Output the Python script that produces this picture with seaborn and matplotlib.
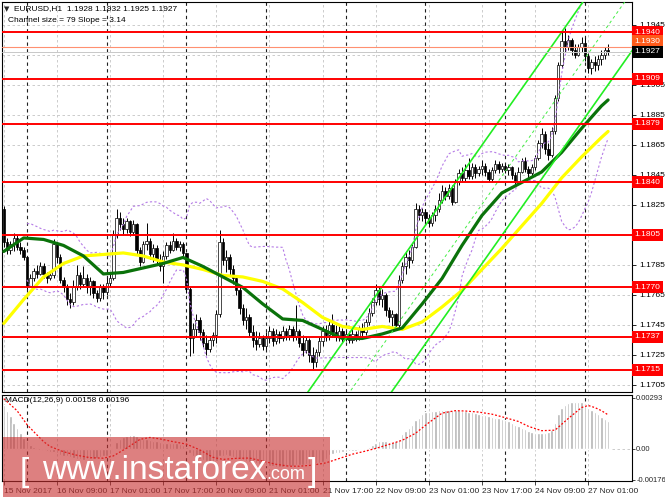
import numpy as np
import pandas as pd
import matplotlib
matplotlib.use("Agg")
import matplotlib.pyplot as plt
import matplotlib.transforms as mtransforms
from matplotlib.patches import Rectangle
import seaborn as sns

sns.set_theme(style="white")
plt.rcParams['font.family'] = ['Liberation Sans', 'DejaVu Sans']
plt.rcParams['axes.linewidth'] = 0.8

# ---------------- data (EURUSD H1) ----------------
first_open = 1.1822
close = [
    1.1800, 1.1795, 1.1799, 1.1803, 1.1797, 1.1795, 1.1790, 1.1771, 1.1776, 1.1781,
    1.1779, 1.1784, 1.1779, 1.1776, 1.1778, 1.1799, 1.1790, 1.1775, 1.1770, 1.1762,
    1.1760, 1.1770, 1.1778, 1.1772, 1.1776, 1.1770, 1.1774, 1.1766, 1.1763, 1.1770,
    1.1767, 1.1773, 1.1776, 1.1805, 1.1816, 1.1812, 1.1809, 1.1814, 1.1807, 1.1812,
    1.1795, 1.1787, 1.1799, 1.1801, 1.1792, 1.1796, 1.1788, 1.1784, 1.1791, 1.1798,
    1.1795, 1.1801, 1.1797, 1.1799, 1.1793, 1.1769, 1.1736, 1.1742, 1.1748, 1.1740,
    1.1733, 1.1729, 1.1735, 1.1738, 1.1752, 1.1800, 1.1788, 1.1790, 1.1782, 1.1776,
    1.1768, 1.1756, 1.1748, 1.1750, 1.1740, 1.1735, 1.1732, 1.1736, 1.1731, 1.1736,
    1.1741, 1.1734, 1.1739, 1.1736, 1.1741, 1.1738, 1.1742, 1.1737, 1.1741, 1.1733,
    1.1728, 1.1735, 1.1725, 1.1720, 1.1727, 1.1734, 1.1741, 1.1738, 1.1745, 1.1740,
    1.1737, 1.1741, 1.1736, 1.1739, 1.1735, 1.1739, 1.1737, 1.1742, 1.1740, 1.1747,
    1.1753, 1.1760, 1.1768, 1.1762, 1.1765, 1.1755, 1.1750, 1.1752, 1.1745, 1.1775,
    1.1784, 1.1790, 1.1788, 1.1797, 1.1822, 1.1818, 1.1820, 1.1816, 1.1813, 1.1818,
    1.1822, 1.1828, 1.1834, 1.1831, 1.1836, 1.1827, 1.1840, 1.1846, 1.1843, 1.1848,
    1.1844, 1.1850, 1.1846, 1.1849, 1.1851, 1.1847, 1.1842, 1.1848, 1.1852, 1.1849,
    1.1851, 1.1848, 1.1850, 1.1845, 1.1840, 1.1847, 1.1854, 1.1849, 1.1846, 1.1850,
    1.1856, 1.1866, 1.1872, 1.1862, 1.1858, 1.1874, 1.1896, 1.1918, 1.1934, 1.1930,
    1.1935, 1.1928, 1.1925, 1.1930, 1.1933, 1.1924, 1.1916, 1.1920, 1.1918, 1.1922,
    1.1925, 1.1928, 1.1927]
high = [
    1.1824, 1.1803, 1.1801, 1.1806, 1.1805, 1.1800, 1.1797, 1.1791, 1.1779, 1.1783,
    1.1785, 1.1787, 1.1786, 1.1780, 1.1780, 1.1802, 1.1800, 1.1792, 1.1777, 1.1772,
    1.1766, 1.1775, 1.1785, 1.1780, 1.1784, 1.1779, 1.1777, 1.1775, 1.1768, 1.1772,
    1.1772, 1.1776, 1.1779, 1.1808, 1.1822, 1.1820, 1.1816, 1.1816, 1.1815, 1.1815,
    1.1813, 1.1797, 1.1801, 1.1813, 1.1803, 1.1799, 1.1798, 1.1792, 1.1794, 1.1800,
    1.1801, 1.1806, 1.1803, 1.1801, 1.1800, 1.1793, 1.1770, 1.1746, 1.1752, 1.1750,
    1.1742, 1.1738, 1.1737, 1.1740, 1.1755, 1.1808, 1.1803, 1.1795, 1.1792, 1.1785,
    1.1778, 1.1770, 1.1759, 1.1756, 1.1752, 1.1745, 1.1741, 1.1740, 1.1738, 1.1740,
    1.1744, 1.1743, 1.1742, 1.1741, 1.1744, 1.1743, 1.1745, 1.1744, 1.1758, 1.1742,
    1.1738, 1.1737, 1.1736, 1.1730, 1.1729, 1.1737, 1.1744, 1.1745, 1.1748, 1.1752,
    1.1745, 1.1744, 1.1743, 1.1741, 1.1741, 1.1742, 1.1741, 1.1744, 1.1746, 1.1749,
    1.1756, 1.1763, 1.1772, 1.1770, 1.1769, 1.1766, 1.1757, 1.1755, 1.1753, 1.1778,
    1.1787, 1.1794, 1.1795, 1.1799, 1.1826, 1.1825, 1.1823, 1.1822, 1.1819, 1.1820,
    1.1825, 1.1833, 1.1838, 1.1837, 1.1839, 1.1838, 1.1842, 1.1849, 1.1850, 1.1852,
    1.1856, 1.1853, 1.1852, 1.1851, 1.1855, 1.1853, 1.1849, 1.1850, 1.1855, 1.1854,
    1.1853, 1.1852, 1.1852, 1.1851, 1.1847, 1.1850, 1.1856, 1.1857, 1.1851, 1.1852,
    1.1858, 1.1868, 1.1876, 1.1874, 1.1866, 1.1877, 1.1898, 1.1920, 1.1941, 1.1943,
    1.1938, 1.1936, 1.1932, 1.1932, 1.1937, 1.1936, 1.1926, 1.1922, 1.1924, 1.1925,
    1.1928, 1.1930, 1.1932]
low = [
    1.1797, 1.1792, 1.1792, 1.1794, 1.1795, 1.1792, 1.1788, 1.1769, 1.1770, 1.1774,
    1.1776, 1.1778, 1.1776, 1.1773, 1.1775, 1.1776, 1.1786, 1.1773, 1.1767, 1.1758,
    1.1756, 1.1758, 1.1768, 1.1769, 1.1770, 1.1766, 1.1765, 1.1763, 1.1760, 1.1761,
    1.1762, 1.1765, 1.1770, 1.1775, 1.1803, 1.1808, 1.1805, 1.1806, 1.1804, 1.1805,
    1.1792, 1.1784, 1.1786, 1.1795, 1.1789, 1.1787, 1.1785, 1.1781, 1.1773, 1.1789,
    1.1793, 1.1794, 1.1795, 1.1794, 1.1791, 1.1766, 1.1724, 1.1726, 1.1737, 1.1735,
    1.1730, 1.1725, 1.1727, 1.1731, 1.1733, 1.1750, 1.1785, 1.1780, 1.1778, 1.1772,
    1.1765, 1.1752, 1.1745, 1.1742, 1.1737, 1.1730, 1.1728, 1.1730, 1.1728, 1.1729,
    1.1733, 1.1731, 1.1732, 1.1733, 1.1734, 1.1735, 1.1735, 1.1734, 1.1735, 1.1730,
    1.1724, 1.1726, 1.1720, 1.1715, 1.1717, 1.1724, 1.1731, 1.1734, 1.1735, 1.1737,
    1.1734, 1.1734, 1.1733, 1.1734, 1.1733, 1.1733, 1.1734, 1.1735, 1.1737, 1.1738,
    1.1745, 1.1751, 1.1758, 1.1758, 1.1757, 1.1751, 1.1747, 1.1744, 1.1742, 1.1743,
    1.1773, 1.1779, 1.1783, 1.1786, 1.1796, 1.1815, 1.1814, 1.1813, 1.1810, 1.1811,
    1.1814, 1.1820, 1.1826, 1.1828, 1.1829, 1.1825, 1.1826, 1.1838, 1.1840, 1.1841,
    1.1842, 1.1842, 1.1843, 1.1844, 1.1845, 1.1844, 1.1840, 1.1840, 1.1846, 1.1846,
    1.1847, 1.1846, 1.1845, 1.1842, 1.1838, 1.1839, 1.1846, 1.1847, 1.1843, 1.1844,
    1.1848, 1.1855, 1.1863, 1.1859, 1.1855, 1.1857, 1.1872, 1.1894, 1.1916, 1.1927,
    1.1928, 1.1925, 1.1923, 1.1924, 1.1927, 1.1921, 1.1913, 1.1912, 1.1914, 1.1915,
    1.1918, 1.1922, 1.1925]

time_labels = ["15 Nov 2017", "16 Nov 09:00", "17 Nov 01:00", "17 Nov 17:00",
               "20 Nov 09:00", "21 Nov 01:00", "21 Nov 17:00", "22 Nov 09:00",
               "23 Nov 01:00", "23 Nov 17:00", "24 Nov 09:00", "27 Nov 01:00"]
label_bars = [0, 16, 32, 48, 64, 80, 96, 112, 128, 144, 160, 176]
day_start_bars = [7, 31, 55, 79, 103, 127, 151, 175]

ma_bars = [0, 6, 12, 18, 24, 30, 36, 42, 48, 54, 60, 66, 72, 78, 84, 90,
           96, 102, 108, 114, 120, 126, 132, 138, 144, 150, 156, 162, 168, 174, 180, 182]
ma_green = [1.1794, 1.1803, 1.1802, 1.1798, 1.1791, 1.1779, 1.1780, 1.1783, 1.1786, 1.1790,
            1.1784, 1.1777, 1.1770, 1.1759, 1.1749, 1.1748, 1.1742, 1.1736, 1.1736, 1.1739,
            1.1743, 1.1759, 1.1776, 1.1798, 1.1818, 1.1833, 1.1840, 1.1847, 1.1860, 1.1876,
            1.1891, 1.1895]
ma_yellow = [1.1746, 1.1762, 1.1777, 1.1786, 1.1791, 1.1792, 1.1793, 1.1791, 1.1787, 1.1785,
             1.1782, 1.1778, 1.1777, 1.1774, 1.1769, 1.1760, 1.1750, 1.1744, 1.1742, 1.1744,
             1.1742, 1.1747, 1.1757, 1.1768, 1.1782, 1.1796, 1.1811, 1.1826, 1.1843, 1.1857,
             1.1870, 1.1874]

# MACD(12,26,9) main line, in units of 0.00001
macd_main_e5 = [
    250, 220, 190, 150, 120, 92, 65, 45, 25, 14,
    6, 0, -8, -12, -16, -18, -25, -32, -38, -42,
    -48, -52, -55, -58, -61, -60, -58, -55, -52, -47,
    -42, -38, -30, 5, 40, 55, 68, 77, 80, 83,
    72, 63, 60, 56, 52, 48, 43, 38, 35, 34,
    33, 33, 32, 28, 22, 10, -25, -38, -45, -55,
    -63, -70, -75, -78, -70, -40, -38, -37, -40, -45,
    -50, -57, -64, -68, -72, -76, -80, -85, -89, -93,
    -97, -100, -102, -104, -103, -101, -99, -96, -94, -92,
    -90, -88, -87, -86, -83, -78, -72, -60, -35, -28,
    -24, -21, -18, -16, -14, -12, -10, -8, -6, 0,
    10, 22, 35, 45, 47, 45, 42, 42, 45, 60,
    85, 105, 120, 140, 165, 180, 200, 210, 215, 218,
    220, 222, 224, 225, 226, 224, 222, 221, 219, 216,
    214, 212, 208, 203, 197, 193, 189, 185, 180, 176,
    172, 167, 161, 152, 140, 130, 120, 112, 104, 96,
    92, 92, 93, 94, 97, 110, 150, 200, 235, 252,
    262, 267, 269, 270, 268, 250, 238, 225, 212, 198,
    184, 170, 158]
signal_bars = [0, 4, 7, 9, 12, 14, 18, 22, 26, 30, 33, 37, 41, 44, 47, 51, 55, 59, 63, 66,
               70, 74, 78, 82, 86, 89, 93, 97, 101, 105, 109, 112, 116, 120, 124, 128, 132,
               136, 139, 143, 147, 151, 155, 158, 162, 166, 170, 174, 176, 178, 180, 182]
signal_e5 = [289, 220, 140, 100, 42, 14, -16, -36, -50, -53, -40, 5, 55, 66, 58, 42, 28, -5,
             -48, -60, -54, -52, -70, -88, -99, -99, -93, -80, -55, -30, -12, 3, 26, 50, 90,
             151, 206, 220, 218, 212, 200, 180, 158, 130, 105, 108, 175, 238, 250, 238, 220, 196]

levels = [1.1940, 1.1909, 1.1879, 1.1840, 1.1805, 1.1770, 1.1737, 1.1715]
ask_level = 1.1930
bid_level = 1.1927

chan_anchor_bar = 93.1      # channel upper line passes 1.1705 at this bar
chan_anchor_price = 1.1705
chan_slope = 0.000314       # 3.14 pips per bar
chan_width = 0.0079         # 79 pips

price_ticks = [1.1705, 1.1725, 1.1745, 1.1765, 1.1785, 1.1805, 1.1825,
               1.1845, 1.1865, 1.1885, 1.1905, 1.1925, 1.1945]
hidden_tick_labels = [1.1805, 1.1925]   # covered by the price tags in the original
macd_ticks = [0.00293, 0.0, -0.00176]
macd_tick_labels = ["0.00293", "0.00", "-0.00176"]

# ---------------- frame ----------------
df = pd.DataFrame({"bar": np.arange(len(close)), "close": close, "high": high, "low": low})
df["open"] = [first_open] + close[:-1]
df["macd"] = np.array(macd_main_e5) * 1e-5
mid = df["close"].rolling(20, min_periods=8).mean()
sd = df["close"].rolling(20, min_periods=8).std(ddof=0)
df["bb_up"] = mid + 2 * sd
df["bb_dn"] = mid - 2 * sd

W, H = 665, 499
fig = plt.figure(figsize=(W / 100, H / 100), dpi=100)
fig.patch.set_facecolor("white")


def fx(p):
    return p / W


def fy(p):
    return 1 - p / H


ax = fig.add_axes([fx(2), fy(392), fx(632) - fx(2), fy(2) - fy(392)])
axm = fig.add_axes([fx(2), fy(481), fx(632) - fx(2), fy(395) - fy(481)], sharex=ax)
for a in (ax, axm):
    a.set_facecolor("white")
    for s in a.spines.values():
        s.set_color("black")
        s.set_linewidth(0.8)

XL = (-0.53, 189.2)
ax.set_xlim(*XL)
ax.set_ylim(1.17003, 1.19603)
axm.set_ylim(-0.00184, 0.00310)

grid_kw = dict(color="#c4c4c4", lw=0.6, ls=(0, (3, 3)), zorder=0.5)
sep_kw = dict(color="#202020", lw=0.8, ls=(0, (3, 3)), zorder=0.6)
for t in price_ticks:
    ax.axhline(t, **grid_kw)
for b in label_bars:
    ax.axvline(b, **grid_kw)
    axm.axvline(b, **grid_kw)
for b in day_start_bars:
    ax.axvline(b, **sep_kw)
    axm.axvline(b, **sep_kw)
axm.axhline(0.0, **grid_kw)

# candles
up = df["close"] >= df["open"]
body_bot = np.minimum(df["open"], df["close"])
body_h = np.maximum((df["close"] - df["open"]).abs(), 0.00003)
ax.vlines(df["bar"], df["low"], df["high"], color="black", lw=0.7, zorder=2)
ax.bar(df["bar"][up], body_h[up], bottom=body_bot[up], width=0.72,
       color="white", edgecolor="black", linewidth=0.5, zorder=2.1)
ax.bar(df["bar"][~up], body_h[~up], bottom=body_bot[~up], width=0.72,
       color="black", edgecolor="black", linewidth=0.5, zorder=2.1)

# bollinger bands
bb_col = "#b57be6"
sns.lineplot(x=df["bar"], y=df["bb_up"], ax=ax, color=bb_col, lw=0.8,
             linestyle=(0, (2, 2)), zorder=3)
sns.lineplot(x=df["bar"], y=df["bb_dn"], ax=ax, color=bb_col, lw=0.8,
             linestyle=(0, (2, 2)), zorder=3)

# moving averages
sns.lineplot(x=ma_bars, y=ma_yellow, ax=ax, color="#ffff00", lw=2.3, zorder=3.5)
sns.lineplot(x=ma_bars, y=ma_green, ax=ax, color="#0a720a", lw=2.3, zorder=3.6)

# regression channel
cx = np.array([60.0, 200.0])
upper = chan_anchor_price + chan_slope * (cx - chan_anchor_bar)
sns.lineplot(x=cx, y=upper, ax=ax, color="#22ee22", lw=1.2, zorder=4)
sns.lineplot(x=cx, y=upper - chan_width, ax=ax, color="#22ee22", lw=1.2, zorder=4)
sns.lineplot(x=cx, y=upper - chan_width / 2, ax=ax, color="#44ee44", lw=0.7,
             linestyle=(0, (3, 3)), zorder=4)

# horizontal levels
ax.axhline(bid_level, color="#c8c8c8", lw=0.7, zorder=4.2)
ax.axhline(ask_level, color="#ff9070", lw=0.8, zorder=4.3)
for lv in levels:
    ax.axhline(lv, color="#ff0000", lw=1.4, zorder=4.5)

ax.set_xlim(*XL)
ax.set_ylim(1.17003, 1.19603)

# axes ticks
ax.yaxis.tick_right()
ax.set_yticks(price_ticks)
ax.set_yticklabels(["" if t in hidden_tick_labels else f"{t:.4f}" for t in price_ticks])
ax.tick_params(axis="y", direction="out", length=3, width=0.6, labelsize=6, pad=2,
               colors="black", right=True, left=False)
ax.tick_params(axis="x", length=0, labelbottom=False, bottom=False)
ax.set_xlabel("")
ax.set_ylabel("")

axm.bar(df["bar"], df["macd"], width=0.75, color="#b4b4b4", zorder=2)
sns.lineplot(x=signal_bars, y=np.array(signal_e5) * 1e-5, ax=axm, color="#ff0000",
             lw=0.9, linestyle=(0, (1.5, 1.5)), zorder=3)
axm.set_ylim(-0.00184, 0.00310)
axm.yaxis.tick_right()
axm.set_yticks(macd_ticks)
axm.set_yticklabels(macd_tick_labels)
axm.tick_params(axis="y", direction="out", length=2, width=0.6, labelsize=5.5, pad=1,
                right=True, left=False)
axm.set_xticks(label_bars)
axm.set_xticklabels(time_labels, ha="left")
axm.tick_params(axis="x", direction="out", length=3, width=0.6, labelsize=6, pad=2,
                bottom=True)
axm.set_xlabel("")
axm.set_ylabel("")
axm.set_xlim(*XL)

# price labels on the right axis
trans = mtransforms.blended_transform_factory(ax.transAxes, ax.transData)


def price_tag(lv, fc, tc="white", shift=0.0):
    ax.text(1.004, lv + shift, f"{lv:.4f}", transform=trans, ha="left", va="center",
            fontsize=6, color=tc, clip_on=False, zorder=7,
            bbox=dict(boxstyle="square,pad=0.3", fc=fc, ec="none"))


for lv in levels:
    price_tag(lv, "#ff0000")
price_tag(ask_level, "#ff5a1a", shift=0.0004)
price_tag(bid_level, "black")

# header texts
fig.text(fx(4), fy(9), "\u25bc", fontsize=5, family=["DejaVu Sans"], va="center", ha="left")
fig.text(fx(14), fy(9), "EURUSD,H1  1.1928 1.1932 1.1925 1.1927", fontsize=6,
         va="center", ha="left", color="black")
fig.text(fx(8), fy(21), "Channel size = 79 Slope = 3.14", fontsize=6,
         va="center", ha="left", color="black")
fig.text(fx(5), fy(401), "MACD(12,26,9) 0.00158 0.00196", fontsize=6,
         va="center", ha="left", color="black")

# watermark
wm = Rectangle((fx(3), fy(497)), fx(330) - fx(3), fy(437) - fy(497),
               transform=fig.transFigure, fc="#c83232", alpha=0.62, ec="none", zorder=10)
fig.add_artist(wm)
fig.text(fx(20), fy(481), "[", fontsize=24, color="white", va="baseline", ha="left", zorder=11)
fig.text(fx(42), fy(479), "www.instaforex", fontsize=24, color="white", va="baseline",
         ha="left", zorder=11)
fig.text(fx(266), fy(479), ".com", fontsize=13, color="white", va="baseline",
         ha="left", zorder=11)
fig.text(fx(308), fy(481), "]", fontsize=24, color="white", va="baseline", ha="left", zorder=11)

fig.savefig("out.png", dpi=100, facecolor="white")
